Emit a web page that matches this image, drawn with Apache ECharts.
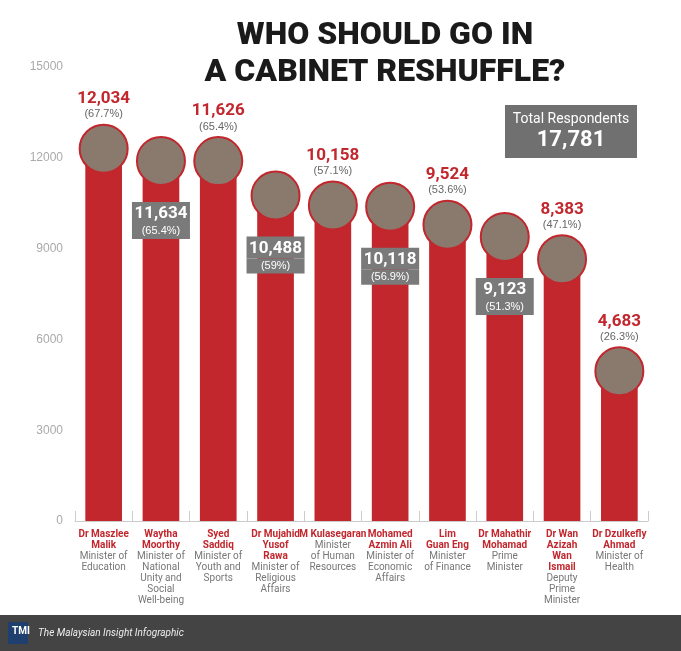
<!DOCTYPE html><html><head><meta charset="utf-8"><script src="https://cdn.jsdelivr.net/npm/echarts@6/dist/echarts.min.js"></script>
<style>body{margin:0;background:#fff}#c{width:681px;height:651px}</style></head><body><div id="c"></div><script>
const names=["Dr Maszlee\nMalik","Waytha\nMoorthy","Syed\nSaddiq","Dr Mujahid\nYusof\nRawa","M Kulasegaran","Mohamed\nAzmin Ali","Lim\nGuan Eng","Dr Mahathir\nMohamad","Dr Wan\nAzizah\nWan\nIsmail","Dr Dzulkefly\nAhmad"];
const roles=["Minister of\nEducation","Minister of\nNational\nUnity and\nSocial\nWell-being","Minister of\nYouth and\nSports","Minister of\nReligious\nAffairs","Minister\nof Human\nResources","Minister of\nEconomic\nAffairs","Minister\nof Finance","Prime\nMinister","Deputy\nPrime\nMinister","Minister of\nHealth"];
const votes=[12034,11634,11626,10488,10158,10118,9524,9123,8383,4683];
const pcts=["67.7%","65.4%","65.4%","59%","57.1%","56.9%","53.6%","51.3%","47.1%","26.3%"];
const inside=[false,true,false,true,false,true,false,true,false,false];
const yTicks=[0,3000,6000,9000,12000,15000];
const cats=names.map((n,i)=>i);
const fmt=v=>v.toLocaleString('en-US');
const ch=echarts.init(document.getElementById('c'));
ch.setOption({
 animation:false,
 title:{text:'WHO SHOULD GO IN\nA CABINET RESHUFFLE?',left:380,top:12,textAlign:'center',textStyle:{fontFamily:'Roboto',fontWeight:900,fontSize:32,lineHeight:37,color:'#1a1a1a'}},
 graphic:[
  {type:'rect',shape:{x:505,y:105,width:132,height:53},style:{fill:'#707070'}},
  {type:'text',x:571,y:112,style:{text:'Total Respondents',fill:'#fff',font:'14px Roboto',textAlign:'center'}},
  {type:'text',x:571,y:129,style:{text:'17,781',fill:'#fff',font:'bold 22px Roboto',textAlign:'center'}},
  {type:'rect',shape:{x:0,y:615,width:681,height:36},style:{fill:'#444'}},
  {type:'rect',shape:{x:8,y:622,width:20,height:22},style:{fill:'#1f3f6e'}},
  {type:'text',x:12,y:626,style:{text:'TMI',fill:'#fff',font:'bold 10px Roboto'}},
  {type:'text',x:38,y:628,style:{text:'The Malaysian Insight Infographic',fill:'#eee',font:'italic 10px Roboto'}}
 ],
 grid:{left:75,right:33,top:67,bottom:130},
 xAxis:{type:'category',data:cats,axisLine:{lineStyle:{color:'#ccc'}},axisTick:{show:true,lineStyle:{color:'#ccc'},length:-10},
  axisLabel:{interval:0,margin:8,formatter:i=>'{n|'+names[i]+'}\n{r|'+roles[i]+'}',
   rich:{n:{fontFamily:'Roboto',fontWeight:'bold',fontSize:10,lineHeight:11,color:'#c1272d'},r:{fontFamily:'Roboto',fontSize:10,lineHeight:11,color:'#777'}}}},
 yAxis:{type:'value',min:0,max:15000,interval:3000,splitLine:{show:false},axisLine:{show:false},axisTick:{show:false},axisLabel:{color:'#aaa',fontSize:12,margin:12,formatter:v=>String(v)}},
 series:[
  {type:'bar',barWidth:'64%',data:votes,itemStyle:{color:'#c1272d'},z:2,
   label:{show:true,position:'top',distance:36,formatter:p=>inside[p.dataIndex]?'':'{v|'+fmt(p.value)+'}\n{p|('+pcts[p.dataIndex]+')}',
    rich:{v:{fontFamily:'Roboto',fontWeight:'bold',fontSize:17,color:'#c1272d',lineHeight:18},p:{fontSize:11,color:'#666',lineHeight:13}}}},
  {type:'scatter',data:votes.map((v,i)=>[i,v]),symbolSize:48,symbolOffset:[0,-8],z:5,
   itemStyle:{color:'#8a7a6e',borderColor:'#c1272d',borderWidth:2,opacity:1},
   label:{show:true,position:'bottom',distance:16,formatter:p=>inside[p.dataIndex]?'{v|'+fmt(votes[p.dataIndex])+'}\n{p|('+pcts[p.dataIndex]+')}':'',
    rich:{v:{fontFamily:'Roboto',fontWeight:'bold',fontSize:17,color:'#fff',backgroundColor:'#7a7a7a',width:58,align:'center',height:20,padding:[2,0,0,0]},p:{fontSize:11,color:'#fff',backgroundColor:'#7a7a7a',width:58,align:'center',height:15}}}}
 ]
});
</script></body></html>
